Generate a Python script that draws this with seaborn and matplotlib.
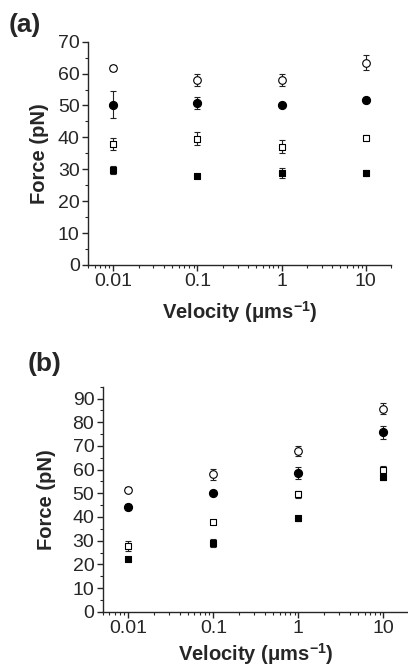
import matplotlib
matplotlib.use("Agg")
import matplotlib.pyplot as plt
from matplotlib.ticker import MultipleLocator, FixedLocator, FixedFormatter, LogLocator, NullFormatter
import seaborn as sns
import pandas as pd

# velocities (um/s)
velocity = [0.01, 0.1, 1, 10]
tick_labels = ['0.01', '0.1', '1', '10']

# panel (a)
a_open_circle = [61.7, 58.0, 58.0, 63.4]
a_open_circle_err = [1.0, 2.0, 2.0, 2.3]
a_filled_circle = [50.2, 50.8, 50.2, 51.7]
a_filled_circle_err = [4.2, 1.8, 0.5, 1.0]
a_open_square = [38.0, 39.6, 37.1, 39.9]
a_open_square_err = [1.9, 2.0, 2.0, 0.7]
a_filled_square = [29.7, 28.0, 28.9, 28.8]
a_filled_square_err = [1.2, 0.5, 1.5, 1.0]

# panel (b)
b_open_circle = [51.5, 58.0, 67.8, 85.8]
b_open_circle_err = [1.0, 2.2, 2.0, 2.5]
b_filled_circle = [44.2, 50.0, 58.5, 75.8]
b_filled_circle_err = [1.2, 0.5, 2.5, 2.7]
b_open_square = [27.8, 38.0, 49.6, 59.7]
b_open_square_err = [2.0, 0.7, 1.5, 2.0]
b_filled_square = [22.3, 29.0, 39.4, 56.8]
b_filled_square_err = [0.5, 1.5, 1.2, 1.0]

sns.set_style("ticks")
plt.rcParams['font.family'] = ['Liberation Sans', 'DejaVu Sans']
plt.rcParams['mathtext.fontset'] = 'custom'
plt.rcParams['mathtext.rm'] = 'Liberation Sans'
plt.rcParams['mathtext.bf'] = 'Liberation Sans:bold'
plt.rcParams['axes.linewidth'] = 1.0


def draw_series(ax, y, err, marker, filled, size):
    df = pd.DataFrame({'v': velocity, 'f': y})
    ax.errorbar(velocity, y, yerr=err, fmt='none', ecolor='#222222',
                elinewidth=0.8, capsize=2.2, capthick=0.8, zorder=2)
    sns.scatterplot(data=df, x='v', y='f', marker=marker, s=size,
                    facecolor='black' if filled else 'white',
                    edgecolor='black', linewidth=0.8, ax=ax, zorder=3)


def style_axes(ax, ymax, xpad, ypad):
    ax.set_xscale('log')
    ax.set_xlim(0.005, 20)
    ax.set_ylim(0, ymax)
    ax.xaxis.set_major_locator(FixedLocator(velocity))
    ax.xaxis.set_major_formatter(FixedFormatter(tick_labels))
    ax.xaxis.set_minor_locator(LogLocator(base=10, subs=range(2, 10)))
    ax.xaxis.set_minor_formatter(NullFormatter())
    ax.yaxis.set_major_locator(MultipleLocator(10))
    ax.yaxis.set_minor_locator(MultipleLocator(5))
    ax.tick_params(which='major', length=4, width=1.0, labelsize=14, pad=2, direction='out')
    ax.tick_params(which='minor', length=2.5, width=0.8, direction='out')
    sns.despine(ax=ax)
    ax.set_xlabel('Velocity (μms$^{\\mathbf{-1}}$)', fontsize=14.5, fontweight='bold', labelpad=xpad)
    ax.set_ylabel('Force (pN)', fontsize=14.5, fontweight='bold', labelpad=ypad)


fig = plt.figure(figsize=(4.08, 6.67), dpi=100)
ax_a = fig.add_axes([0.2157, 0.6027, 0.7426, 0.3348])
ax_b = fig.add_axes([0.2517, 0.0829, 0.751, 0.3373])

draw_series(ax_a, a_open_circle, a_open_circle_err, 'o', False, 30)
draw_series(ax_a, a_filled_circle, a_filled_circle_err, 'o', True, 34)
draw_series(ax_a, a_open_square, a_open_square_err, 's', False, 22)
draw_series(ax_a, a_filled_square, a_filled_square_err, 's', True, 24)
style_axes(ax_a, 70, 6, 6.5)

draw_series(ax_b, b_open_circle, b_open_circle_err, 'o', False, 30)
draw_series(ax_b, b_filled_circle, b_filled_circle_err, 'o', True, 34)
draw_series(ax_b, b_open_square, b_open_square_err, 's', False, 22)
draw_series(ax_b, b_filled_square, b_filled_square_err, 's', True, 24)
style_axes(ax_b, 95, 3, 12)

fig.text(0.02, 0.962, '(a)', fontsize=19, fontweight='bold', va='center', ha='left')
fig.text(0.067, 0.455, '(b)', fontsize=19, fontweight='bold', va='center', ha='left')

fig.savefig('out.png', dpi=100)
